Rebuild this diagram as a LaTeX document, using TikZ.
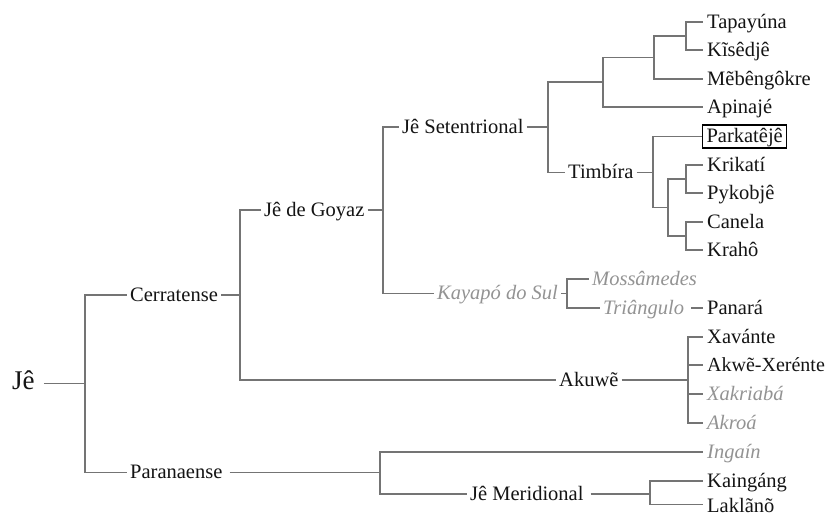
\documentclass[tikz,border=0pt]{standalone}
\usepackage{fontspec}
\setmainfont{Liberation Serif}
\definecolor{lncol}{HTML}{747474}
\definecolor{txtcol}{HTML}{141414}
\definecolor{grcol}{HTML}{939393}
\begin{document}
\begin{tikzpicture}[x=1pt,y=-1pt,
  lab/.style={anchor=west,inner xsep=3pt,inner ysep=0pt,text height=15pt,text depth=3pt,
    font=\fontsize{20.5}{24}\selectfont,text=txtcol},
  leaf/.style={lab,inner xsep=4pt},
  gray/.style={text=grcol,font=\fontsize{20.5}{24}\selectfont\itshape},
  boxed/.style={draw=black,line width=1.1pt,inner ysep=2.5pt},
  ln/.style={draw=lncol,line width=1.7pt}]
\useasboundingbox[fill=white] (0,0) rectangle (830,515);
% leaves
\node[leaf] (tap) at (703,22) {Tapayúna};
\node[leaf] (kis) at (703,50) {Kĩsêdjê};
\node[leaf] (meb) at (703,79) {Mẽbêngôkre};
\node[leaf] (api) at (703,107) {Apinajé};
\node[leaf,boxed] (park) at (702,136.5) {Parkatêjê};
\node[leaf] (kri) at (703,165) {Krikatí};
\node[leaf] (pyk) at (703,193) {Pykobjê};
\node[leaf] (can) at (703,222) {Canela};
\node[leaf] (kra) at (703,250) {Krahô};
\node[lab,gray] (mos) at (589,279) {Mossâmedes};
\node[lab,gray] (tri) at (600,308) {Triângulo};
\node[leaf] (pan) at (703,308) {Panará};
\node[leaf] (xav) at (703,337) {Xavánte};
\node[leaf,font=\fontsize{20}{24}\selectfont] (akw) at (703,365) {Akwẽ-Xerénte};
\node[leaf,gray] (xak) at (703,394) {Xakriabá};
\node[leaf,gray] (akr) at (703,423) {Akroá};
\node[leaf,gray] (ing) at (703,452) {Ingaín};
\node[leaf] (kai) at (703,481) {Kaingáng};
\node[leaf,text depth=0pt] (lak) at (703,504.5) {Laklãnõ};
% internal labels
\node[lab] (set) at (399,127) {Jê Setentrional};
\node[lab] (timb) at (565,172.5) {Timbíra};
\node[lab] (goy) at (261,210) {Jê de Goyaz};
\node[lab,gray] (kay) at (434,293.5) {Kayapó do Sul};
\node[lab] (cerr) at (127,295) {Cerratense};
\node[lab] (aku) at (556,380) {Akuwẽ};
\node[lab,font=\fontsize{27}{30}\selectfont] (je) at (9,383.5) {Jê};
\node[lab] (par) at (127,472.5) {Paranaense};
\node[lab] (mer) at (467,494) {Jê Meridional};
% junctions
\coordinate (c1) at (686,36);
\coordinate (c2) at (654,57.5);
\coordinate (c3) at (603,82);
\coordinate (c4) at (548,127);
\coordinate (c5) at (653,172.5);
\coordinate (c6) at (668,207.5);
\coordinate (c7) at (686,179);
\coordinate (c8) at (686,236);
\coordinate (c9) at (383,210);
\coordinate (c10) at (567,293.5);
\coordinate (c11) at (240,295);
\coordinate (c12) at (688,380);
\coordinate (c13) at (85,383.5);
\coordinate (c14) at (380,472.5);
\coordinate (c15) at (650,494);
% connectors
\draw[ln] (c1) |- (tap.west);
\draw[ln] (c1) |- (kis.west);
\draw[ln] (c2) |- (c1);
\draw[ln] (c2) |- (meb.west);
\draw[ln] (c3) |- (c2);
\draw[ln] (c3) |- (api.west);
\draw[ln] (set.east) -- (c4);
\draw[ln] (c4) |- (c3);
\draw[ln] (c4) |- (timb.west);
\draw[ln] (timb.east) -- (c5);
\draw[ln] (c5) |- (park.west);
\draw[ln] (c5) |- (c6);
\draw[ln] (c6) |- (c7);
\draw[ln] (c6) |- (c8);
\draw[ln] (c7) |- (kri.west);
\draw[ln] (c7) |- (pyk.west);
\draw[ln] (c8) |- (can.west);
\draw[ln] (c8) |- (kra.west);
\draw[ln] (goy.east) -- (c9);
\draw[ln] (c9) |- (set.west);
\draw[ln] (c9) |- (kay.west);
\draw[ln] (kay.east) -- (c10);
\draw[ln] (c10) |- (mos.west);
\draw[ln] (c10) |- (tri.west);
\draw[ln] ([xshift=4pt]tri.east) -- (pan.west);
\draw[ln] (cerr.east) -- (c11);
\draw[ln] (c11) |- (goy.west);
\draw[ln] (c11) |- (aku.west);
\draw[ln] (aku.east) -- (c12);
\draw[ln] (c12) |- (xav.west);
\draw[ln] (c12) |- (akw.west);
\draw[ln] (c12) |- (xak.west);
\draw[ln] (c12) |- (akr.west);
\draw[ln] ([xshift=6pt]je.east) -- (c13);
\draw[ln] (c13) |- (cerr.west);
\draw[ln] (c13) |- (par.west);
\draw[ln] ([xshift=4pt]par.east) -- (c14);
\draw[ln] (c14) |- (ing.west);
\draw[ln] (c14) |- (mer.west);
\draw[ln] ([xshift=4pt]mer.east) -- (c15);
\draw[ln] (c15) |- (kai.west);
\draw[ln] (c15) |- (lak.west);
\end{tikzpicture}
\end{document}
